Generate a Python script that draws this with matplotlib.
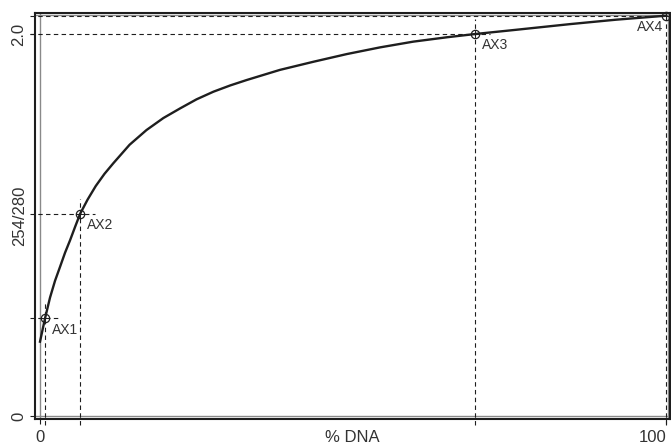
import matplotlib
matplotlib.use("Agg")
import matplotlib.pyplot as plt

# curve: % DNA vs 254/280 ratio
pct_dna = [0.0, 0.8, 1.6, 2.4, 3.2, 4.0, 4.8, 5.6, 6.4, 7.6, 8.9, 10.3, 11.7,
           14.3, 17.0, 19.7, 22.4, 25.0, 27.7, 30.4, 33.0, 38.3, 43.7, 49.0,
           54.3, 59.6, 65.0, 69.5, 76.0, 84.7, 92.0, 100.0]
ratio = [0.389, 0.511, 0.620, 0.708, 0.781, 0.855, 0.920, 0.990, 1.058, 1.133,
         1.204, 1.268, 1.323, 1.420, 1.497, 1.560, 1.611, 1.658, 1.698, 1.731,
         1.759, 1.812, 1.855, 1.895, 1.930, 1.960, 1.983, 2.000, 2.022, 2.052,
         2.075, 2.096]

# marked points
pt_names = ["AX1", "AX2", "AX3", "AX4"]
pt_x = [0.8, 6.4, 69.5, 100.0]
pt_y = [0.511, 1.058, 2.000, 2.096]

x_ticks = [0, 100]
x_ticklabels = ["0", "100"]
y_ticks = [0, 2.0]
y_ticklabels = ["0", "2.0"]

plt.rcParams["font.family"] = ["Liberation Sans", "DejaVu Sans"]
ink = "#1e1e1e"
txt = "#333333"

fig = plt.figure(figsize=(6.71, 4.45), dpi=100)
ax = fig.add_axes([35 / 671, 26 / 445, 635 / 671, 406 / 445])
ax.set_xlim(-0.8, 100.6)
ax.set_ylim(-0.016, 2.11)

# inner grey frame
for v in (0, 100.35):
    ax.axvline(v, color="#8a8a8a", lw=1.0, zorder=1)
for h in (0, 2.1):
    ax.axhline(h, color="#8a8a8a", lw=1.0, zorder=1)

# dashed guides from each point to the axes
dash = dict(color=ink, lw=0.8, ls=(0, (4, 3)), zorder=2, clip_on=False)
ext_x = 2.4
ext_y = 0.08
for x, y in zip(pt_x, pt_y):
    ax.plot([-1.6, min(x + ext_x, 100.3)], [y, y], **dash)
    ax.plot([x, x], [-0.045, min(y + ext_y, 2.1)], **dash)

ax.plot(pct_dna, ratio, color=ink, lw=1.7, zorder=3)

ax.plot(pt_x, pt_y, ls="none", marker="o", ms=6, mfc="none", mec=ink, mew=0.9,
        zorder=4, clip_on=False)
ax.plot(pt_x, pt_y, ls="none", marker="+", ms=6, mec=ink, mew=0.7,
        zorder=4, clip_on=False)

for name, x, y in zip(pt_names, pt_x, pt_y):
    if name == "AX4":
        ax.annotate(name, (x, y), xytext=(-2, -3), textcoords="offset points",
                    ha="right", va="top", fontsize=10, color=txt)
    else:
        ax.annotate(name, (x, y), xytext=(5, -3), textcoords="offset points",
                    ha="left", va="top", fontsize=10, color=txt)

ax.set_xticks(x_ticks)
ax.set_xticklabels(x_ticklabels, fontsize=12, color=txt)
ax.get_xticklabels()[-1].set_horizontalalignment("right")
ax.set_yticks(y_ticks)
ax.set_yticklabels(y_ticklabels, fontsize=12, color=txt,
                   rotation=90, va="center")
ax.tick_params(direction="out", length=3.5, width=0.8, color=ink, pad=3)
ax.tick_params(axis="x", pad=4.5)

ax.set_xlabel("% DNA", fontsize=12, color=txt)
ax.xaxis.set_label_coords(0.5, -0.027)
ax.set_ylabel("254/280", fontsize=12, color=txt)
ax.yaxis.set_label_coords(-0.013, 0.5)

for s in ax.spines.values():
    s.set_color(ink)
    s.set_linewidth(1.5)

fig.savefig("out.png", dpi=100)
